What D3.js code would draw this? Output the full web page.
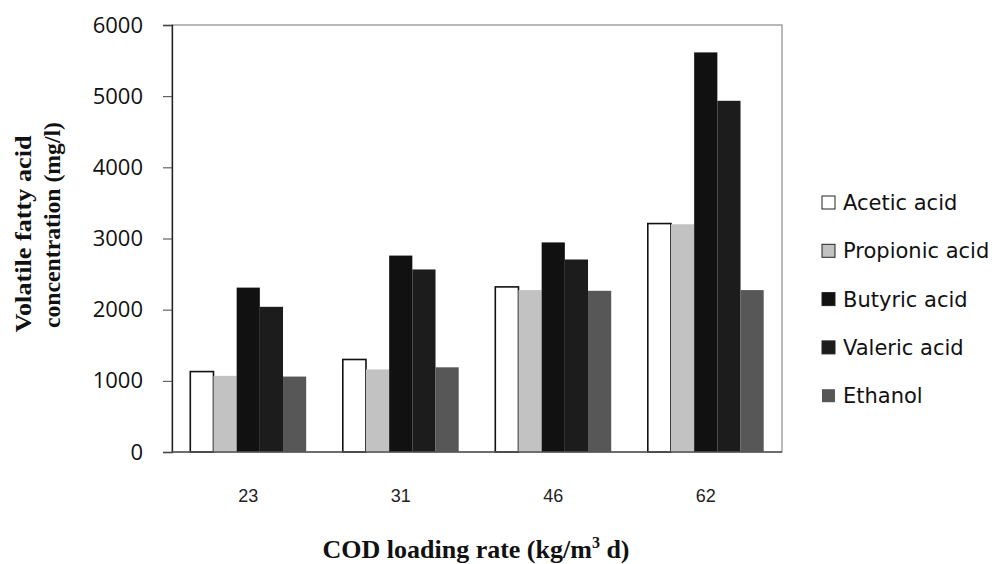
<!DOCTYPE html>
<html><head><meta charset="utf-8">
<script src="https://cdn.jsdelivr.net/npm/d3@7"></script>
<style>body{margin:0;background:#fff}svg{display:block}</style>
</head><body>
<svg id="c" width="996" height="564"></svg>
<script>
const categories = ["23","31","46","62"];
const seriesNames = ["Acetic acid","Propionic acid","Butyric acid","Valeric acid","Ethanol"];
const acetic    = [1130, 1300, 2320, 3210];
const propionic = [1070, 1160, 2275, 3200];
const butyric   = [2310, 2760, 2945, 5615];
const valeric   = [2040, 2565, 2705, 4935];
const ethanol   = [1060, 1190, 2265, 2275];
const yTicks = [0,1000,2000,3000,4000,5000,6000];
const seriesValues = [acetic, propionic, butyric, valeric, ethanol];
const colors = ["#ffffff","#c2c2c2","#111111","#1c1c1c","#575757"];

const svg = d3.select("#c");
const L = 172, R = 782, T = 25, B = 452;

const x0 = d3.scaleBand().domain(categories).range([L, R]).paddingInner(0.24).paddingOuter(0.12);
const x1 = d3.scaleBand().domain(seriesNames).range([0, x0.bandwidth()]).padding(0);
const y = d3.scaleLinear().domain([0, 6000]).range([B, T]);

// frame
svg.append("rect").attr("x", L).attr("y", T).attr("width", R - L).attr("height", B - T)
  .attr("fill", "none").attr("stroke", "#8a8a8a").attr("stroke-width", 1.2);

// bars
const g = svg.append("g");
categories.forEach((c, i) => {
  seriesNames.forEach((s, j) => {
    const v = seriesValues[j][i];
    g.append("rect")
      .attr("x", x0(c) + x1(s))
      .attr("y", y(v))
      .attr("width", x1.bandwidth())
      .attr("height", y(0) - y(v))
      .attr("fill", colors[j])
      .attr("stroke", j === 0 ? "#111" : "none")
      .attr("stroke-width", j === 0 ? 1.6 : 0);
  });
});

// y axis
const yAxis = svg.append("g").attr("transform", `translate(${L},0)`)
  .call(d3.axisLeft(y).tickValues(yTicks).tickSize(9).tickPadding(20).tickFormat(d3.format("d")));
yAxis.select(".domain").attr("stroke", "#222").attr("stroke-width", 1.3);
yAxis.selectAll(".tick line").attr("stroke", "#444");
yAxis.selectAll("text").attr("font-family", "'Open Sans', sans-serif").attr("font-size", 22).attr("fill", "#111");

// bottom axis line
svg.append("line").attr("x1", L).attr("x2", R).attr("y1", B).attr("y2", B).attr("stroke", "#555").attr("stroke-width", 1.3);

// x labels
const xAxis = svg.append("g").attr("transform", `translate(0,${B})`)
  .call(d3.axisBottom(x0).tickSize(0).tickPadding(37));
xAxis.select(".domain").remove();
xAxis.selectAll("text").attr("font-family", "'Liberation Sans', Arial, sans-serif").attr("font-size", 18).attr("fill", "#222");

// axis titles
const serif = "'Liberation Serif', 'Times New Roman', serif";
const xt = svg.append("text").attr("x", 476).attr("y", 558).attr("text-anchor", "middle")
  .attr("font-family", serif).attr("font-weight", "bold").attr("font-size", 26).attr("fill", "#111");
xt.append("tspan").text("COD loading rate (kg/m");
xt.append("tspan").attr("dy", -10).attr("font-size", 16).text("3");
xt.append("tspan").attr("dy", 10).text(" d)");

svg.append("text").attr("transform", "translate(31,234) rotate(-90)").attr("text-anchor", "middle")
  .attr("font-family", serif).attr("font-weight", "bold").attr("font-size", 24).attr("fill", "#111")
  .attr("textLength", 197).attr("lengthAdjust", "spacingAndGlyphs").text("Volatile fatty acid");
svg.append("text").attr("transform", "translate(60,225) rotate(-90)").attr("text-anchor", "middle")
  .attr("font-family", serif).attr("font-weight", "bold").attr("font-size", 24).attr("fill", "#111")
  .attr("textLength", 206).attr("lengthAdjust", "spacingAndGlyphs").text("concentration (mg/l)");

// legend
const leg = svg.append("g");
seriesNames.forEach((s, j) => {
  const base = 210 + j * 48.3;
  leg.append("rect").attr("x", 822).attr("y", base - 14).attr("width", 13).attr("height", 13)
    .attr("fill", colors[j]).attr("stroke", j === 4 ? "none" : "#222").attr("stroke-width", 1);
  leg.append("text").attr("x", 843).attr("y", base).attr("font-family", "'DejaVu Sans', sans-serif")
    .attr("font-size", 21).attr("fill", "#111").text(s);
});
</script>
</body></html>
